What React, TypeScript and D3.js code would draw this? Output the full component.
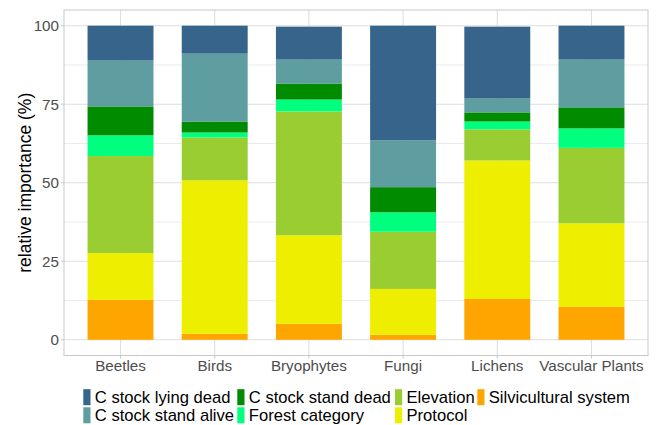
import React from "react";
import * as d3 from "d3";

// Taxonomic groups shown along the x axis
const groups = ["Beetles", "Birds", "Bryophytes", "Fungi", "Lichens", "Vascular Plants"];

// Predictor names, from the bottom of each stack to the top
const predictors = [
  "Silvicultural system",
  "Protocol",
  "Elevation",
  "Forest category",
  "C stock stand dead",
  "C stock stand alive",
  "C stock lying dead",
];

// Relative importance (%) of each predictor, one value per group
const silvicultural = [12.7, 1.9, 5.1, 1.6, 13.0, 10.5];
const protocol = [14.9, 48.9, 28.2, 14.6, 44.1, 26.6];
const elevation = [30.9, 13.6, 39.4, 18.2, 9.9, 24.0];
const forestCategory = [6.6, 1.6, 3.8, 6.2, 2.5, 6.2];
const cStandDead = [9.2, 3.5, 5.1, 8.0, 2.9, 6.7];
const cStandAlive = [14.6, 21.6, 7.6, 14.9, 4.4, 15.2];
const cLyingDead = [11.1, 8.9, 10.5, 36.5, 22.9, 10.8];

const yTicks = [0, 25, 50, 75, 100];

const seriesValues = [silvicultural, protocol, elevation, forestCategory, cStandDead, cStandAlive, cLyingDead];

const colors: Record<string, string> = {
  "C stock lying dead": "#36648B",
  "C stock stand alive": "#5F9EA0",
  "C stock stand dead": "#008B00",
  "Forest category": "#00FF7F",
  Elevation: "#9ACD32",
  Protocol: "#EEEE00",
  "Silvicultural system": "#FFA500",
};

// Legend layout: two rows, filled column by column
const legendOrder = [
  "C stock lying dead",
  "C stock stand alive",
  "C stock stand dead",
  "Forest category",
  "Elevation",
  "Protocol",
  "Silvicultural system",
];

const W = 656;
const H = 425;
const FONT = "'Liberation Sans', Arial, sans-serif";

export default function App() {
  const left = 64;
  const right = 648;
  const top = 10;
  const bottom = 355.5;

  const rows = groups.map((g, i) => {
    const r: Record<string, any> = { group: g };
    predictors.forEach((p, k) => (r[p] = seriesValues[k][i]));
    return r;
  });
  const stacked = d3.stack<any>().keys(predictors)(rows);

  // discrete axis with 0.6 units of padding on each side, bars 0.7 wide
  const unit = (right - left) / (groups.length - 1 + 1.2);
  const xCenter = d3
    .scaleLinear()
    .domain([0, groups.length - 1])
    .range([left + 0.6 * unit, right - 0.6 * unit]);
  const barW = 0.7 * unit;

  const y = d3.scaleLinear().domain([-5, 105]).range([bottom, top]);
  const minorTicks = d3.range(-12.5 + 25, 100, 25);

  const gridColor = "#DEDEDE";
  const textGrey = "#4D4D4D";

  // legend geometry
  const colX = [83.3, 237.3, 395, 477.3];
  const rowY = [397.2, 415.3];

  return (
    <svg width={W} height={H} style={{ position: "absolute", left: 0, top: 0 }} fontFamily={FONT}>
      <rect width={W} height={H} fill="#fff" />
      {/* grid */}
      {minorTicks.map((t) => (
        <line key={"mn" + t} x1={left} x2={right} y1={y(t)} y2={y(t)} stroke={gridColor} strokeWidth={0.6} />
      ))}
      {yTicks.map((t) => (
        <line key={"mj" + t} x1={left} x2={right} y1={y(t)} y2={y(t)} stroke={gridColor} strokeWidth={1.1} />
      ))}
      {groups.map((g, i) => (
        <line key={"vx" + g} x1={xCenter(i)} x2={xCenter(i)} y1={top} y2={bottom} stroke={gridColor} strokeWidth={1.1} />
      ))}
      {/* bars */}
      {stacked.map((layer) => (
        <g key={layer.key} fill={colors[layer.key as string]}>
          {layer.map((d, i) => (
            <rect
              key={i}
              x={xCenter(i) - barW / 2}
              width={barW}
              y={y(d[1])}
              height={y(d[0]) - y(d[1])}
            />
          ))}
        </g>
      ))}
      {/* panel border */}
      <rect x={left} y={top} width={right - left} height={bottom - top} fill="none" stroke="#C8C8C8" strokeWidth={1} />
      {/* y axis */}
      {yTicks.map((t) => (
        <g key={"yt" + t}>
          <line x1={left - 3} x2={left} y1={y(t)} y2={y(t)} stroke="#C8C8C8" strokeWidth={1} />
          <text x={left - 5} y={y(t)} dy="0.35em" textAnchor="end" fontSize={15.2} fill={textGrey}>
            {t}
          </text>
        </g>
      ))}
      {/* x axis */}
      {groups.map((g, i) => (
        <g key={"xt" + g}>
          <line x1={xCenter(i)} x2={xCenter(i)} y1={bottom} y2={bottom + 3} stroke="#C8C8C8" strokeWidth={1} />
          <text x={xCenter(i)} y={bottom + 15} textAnchor="middle" fontSize={15.2} fill={textGrey}>
            {g}
          </text>
        </g>
      ))}
      <text
        transform={`translate(25,${(top + bottom) / 2}) rotate(-90)`}
        textAnchor="middle"
        dy="0.35em"
        fontSize={17.5}
        fill="#000"
      >
        relative importance (%)
      </text>
      {/* legend */}
      {legendOrder.map((name, k) => {
        const col = Math.floor(k / 2);
        const row = k % 2;
        const lx = colX[col];
        const ly = rowY[row];
        return (
          <g key={name}>
            <rect x={lx} y={ly - 8} width={7.2} height={16} fill={colors[name]} />
            <text x={lx + 11.5} y={ly} dy="0.35em" fontSize={16.6} fill="#000">
              {name}
            </text>
          </g>
        );
      })}
    </svg>
  );
}
